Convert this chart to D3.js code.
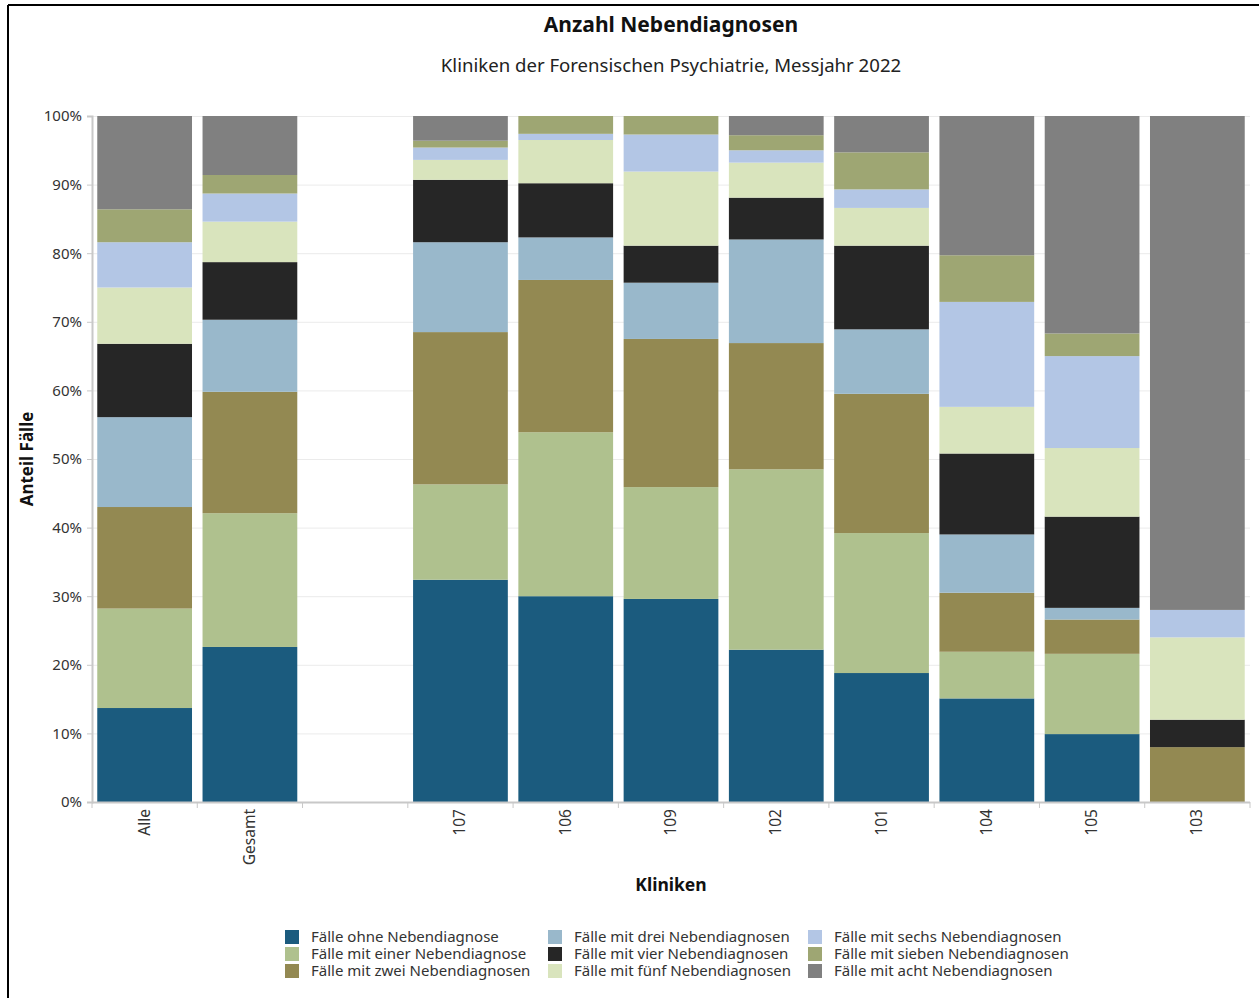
<!DOCTYPE html>
<html>
<head>
<meta charset="utf-8">
<script src="https://cdn.jsdelivr.net/npm/d3@7"></script>
<style>
body{margin:0;background:#fff;font-family:"Noto Sans",sans-serif;}
</style>
</head>
<body>
<div id="main"></div>
<script>
// Kategorien (leerer Platz zwischen Gesamt und den Kliniken)
var kliniken=['Alle','Gesamt','','107','106','109','102','101','104','105','103'];
var reihen=['Fälle ohne Nebendiagnose','Fälle mit einer Nebendiagnose','Fälle mit zwei Nebendiagnosen',
  'Fälle mit drei Nebendiagnosen','Fälle mit vier Nebendiagnosen','Fälle mit fünf Nebendiagnosen',
  'Fälle mit sechs Nebendiagnosen','Fälle mit sieben Nebendiagnosen','Fälle mit acht Nebendiagnosen'];
var farben=['#1b5b7e','#afc18e','#938952','#99b8cb','#262626','#d9e4bd','#b3c6e5','#9ea673','#808080'];

// Anteile in %, eine Liste pro Reihe, Reihenfolge wie kliniken
var ohne   =[13.7,22.6,0,32.4,30.0,29.6,22.2,18.8,15.1, 9.9, 0];
var eine   =[14.5,19.5,0,13.9,23.9,16.3,26.3,20.4, 6.8,11.7, 0];
var zwei   =[14.8,17.7,0,22.2,22.2,21.6,18.4,20.3, 8.6, 5.0, 8];
var drei   =[13.1,10.5,0,13.1, 6.2, 8.2,15.1, 9.4, 8.5, 1.7, 0];
var vier   =[10.7, 8.4,0, 9.1, 7.9, 5.4, 6.1,12.2,11.8,13.3, 4];
var fuenf  =[ 8.2, 5.9,0, 2.9, 6.3,10.8, 5.1, 5.5, 6.8,10.0,12];
var sechs  =[ 6.6, 4.1,0, 1.8, 0.9, 5.4, 1.8, 2.7,15.3,13.4, 4];
var sieben =[ 4.8, 2.7,0, 1.0, 2.6, 2.7, 2.2, 5.4, 6.8, 3.3, 0];
var acht   =[13.6, 8.6,0, 3.6, 0.0, 0.0, 2.8, 5.3,20.3,31.7,72];
var werte=[ohne,eine,zwei,drei,vier,fuenf,sechs,sieben,acht];
var yTicks=[0,10,20,30,40,50,60,70,80,90,100];

var W=1259,H=998;
var links=92,rechts=1250,oben=116,unten=802;

var tabelle=kliniken.map(function(k,i){
  var o={klinik:k,idx:i};
  reihen.forEach(function(r,j){o[r]=werte[j][i];});
  return o;
});

var svg=d3.select('#main').append('svg')
    .attr('width',W)
    .attr('height',H);

// Rahmen oben und links
svg.append('line').attr('x1',8).attr('x2',W).attr('y1',5).attr('y2',5)
    .attr('stroke','#000').attr('stroke-width',2);
svg.append('line').attr('x1',8).attr('x2',8).attr('y1',5).attr('y2',H)
    .attr('stroke','#000').attr('stroke-width',2);

var x=d3.scaleBand()
    .domain(d3.range(kliniken.length))
    .range([links,rechts])
    .paddingInner(0.1)
    .paddingOuter(0.05);
var y=d3.scaleLinear()
    .domain([0,100])
    .range([unten,oben]);

// Gitterlinien
svg.append('g')
  .selectAll('line')
    .data(yTicks)
  .enter().append('line')
    .attr('x1',links)
    .attr('x2',rechts)
    .attr('y1',function(d){return y(d)+0.5})
    .attr('y2',function(d){return y(d)+0.5})
    .attr('stroke','#ebebeb')
    .attr('stroke-width',1);

var stack=d3.stack().keys(reihen);
var lagen=stack(tabelle);

svg.append('g')
  .selectAll('g')
    .data(lagen)
  .enter().append('g')
    .attr('fill',function(d,i){return farben[i]})
  .selectAll('rect')
    .data(function(d){return d})
  .enter().append('rect')
    .attr('x',function(d){return x(d.data.idx)})
    .attr('y',function(d){return y(d[1])})
    .attr('width',x.bandwidth())
    .attr('height',function(d){return Math.max(0,y(d[0])-y(d[1]))});

// y-Achse
var yAxis=svg.append('g')
    .attr('transform','translate('+links+',0)')
    .call(d3.axisLeft(y).tickValues(yTicks).tickSize(5).tickFormat(function(d){return d+'%'}));
yAxis.select('.domain').attr('stroke','#c8c8c8').attr('stroke-width',2);
yAxis.selectAll('.tick line').attr('stroke','#c8c8c8');
yAxis.selectAll('.tick text')
    .attr('x',-10)
    .attr('fill','#333')
    .style('font-family','"Noto Sans",sans-serif')
    .style('font-size','15px');

// x-Achse mit Strichen zwischen den Kategorien
var xa=svg.append('g');
xa.append('line').attr('x1',links).attr('x2',rechts)
    .attr('y1',unten+0.5).attr('y2',unten+0.5)
    .attr('stroke','#c8c8c8').attr('stroke-width',2);
var step=x.step();
xa.selectAll('line.tk')
    .data(d3.range(kliniken.length+1))
  .enter().append('line')
    .attr('class','tk')
    .attr('x1',function(i){return x(0)-step*0.05+i*step})
    .attr('x2',function(i){return x(0)-step*0.05+i*step})
    .attr('y1',unten)
    .attr('y2',unten+6)
    .attr('stroke','#c8c8c8');
xa.selectAll('text')
    .data(tabelle)
  .enter().append('text')
    .attr('transform',function(d){return 'translate('+(x(d.idx)+x.bandwidth()/2+5)+','+(unten+7)+') rotate(-90)'})
    .attr('text-anchor','end')
    .attr('fill','#333')
    .style('font-size','15.5px')
    .text(function(d){return d.klinik});

// Titel
svg.append('text')
    .attr('x',(links+rechts)/2).attr('y',32)
    .attr('text-anchor','middle')
    .style('font-size','21px').style('font-weight','bold').attr('fill','#111')
    .text('Anzahl Nebendiagnosen');
svg.append('text')
    .attr('x',(links+rechts)/2).attr('y',72)
    .attr('text-anchor','middle')
    .style('font-size','18.6px').attr('fill','#222')
    .text('Kliniken der Forensischen Psychiatrie, Messjahr 2022');

svg.append('text')
    .attr('transform','translate(33,'+((oben+unten)/2)+') rotate(-90)')
    .attr('text-anchor','middle')
    .style('font-size','17px').style('font-weight','bold').attr('fill','#111')
    .text('Anteil Fälle');
svg.append('text')
    .attr('x',(links+rechts)/2).attr('y',891)
    .attr('text-anchor','middle')
    .style('font-size','17.5px').style('font-weight','bold').attr('fill','#111')
    .text('Kliniken');

// Legende
var spalten=[285,548,808];
var legende=svg.append('g')
  .selectAll('g')
    .data(reihen)
  .enter().append('g')
    .attr('transform',function(d,i){return 'translate('+spalten[Math.floor(i/3)]+','+(930+(i%3)*17)+')'});
legende.append('rect')
    .attr('width',14).attr('height',14)
    .attr('fill',function(d,i){return farben[i]});
legende.append('text')
    .attr('x',26).attr('y',12)
    .attr('fill','#333')
    .style('font-size','15px')
    .text(function(d){return d});
</script>
</body>
</html>
